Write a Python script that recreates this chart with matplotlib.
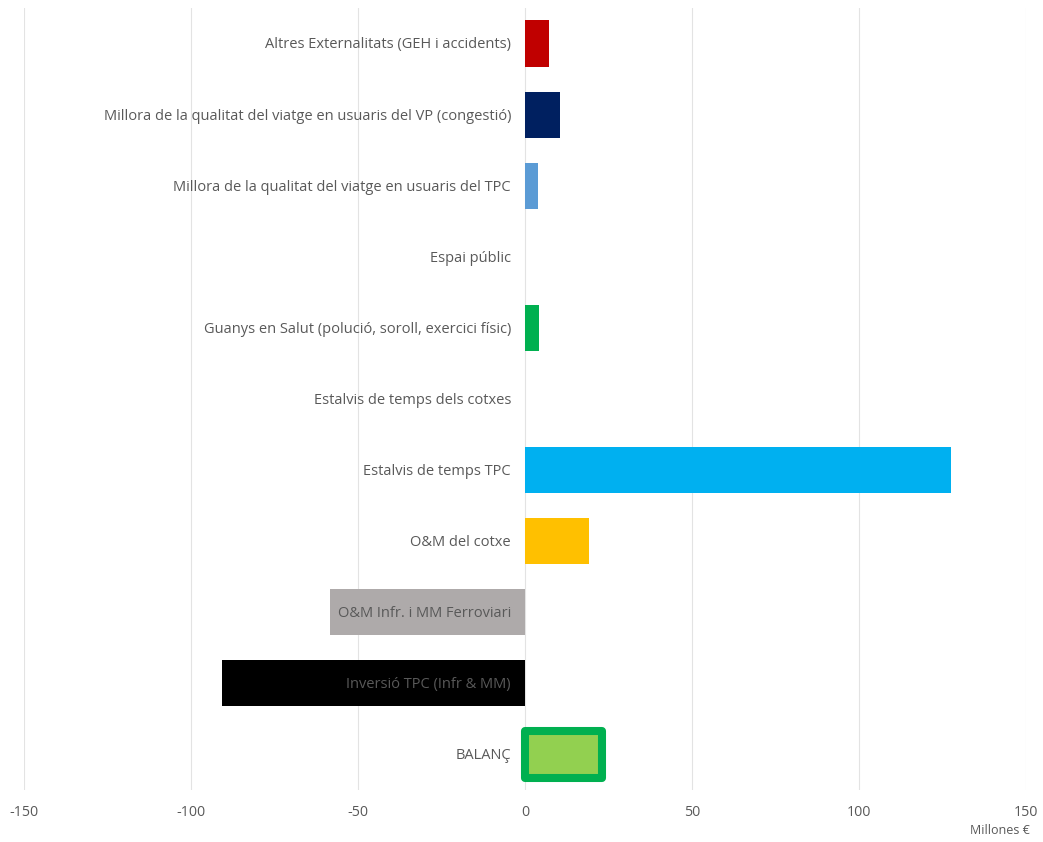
import matplotlib.pyplot as plt

# dades (milions d'euros)
categories = [
    "Altres Externalitats (GEH i accidents)",
    "Millora de la qualitat del viatge en usuaris del VP (congestió)",
    "Millora de la qualitat del viatge en usuaris del TPC",
    "Espai públic",
    "Guanys en Salut (polució, soroll, exercici físic)",
    "Estalvis de temps dels cotxes",
    "Estalvis de temps TPC",
    "O&M del cotxe",
    "O&M Infr. i MM Ferroviari",
    "Inversió TPC (Infr & MM)",
    "BALANÇ",
]
values = [7.2, 10.4, 3.9, 0, 4.1, 0, 127.6, 19.1, -58.3, -90.8, 23.2]
colors = ["#C00000", "#002060", "#5B9BD5", "#FFFFFF", "#00B050", "#FFFFFF",
          "#00B0F0", "#FFC000", "#AEAAAA", "#000000", "#92D050"]
xticks = [-150, -100, -50, 0, 50, 100, 150]

TXT = "#595959"
plt.rcParams["font.family"] = ["Open Sans", "DejaVu Sans"]
plt.rcParams["axes.unicode_minus"] = False

fig = plt.figure(figsize=(10.43, 8.42), dpi=100)
ax = fig.add_axes([24 / 1043, 1 - 790 / 842, 1002 / 1043, 782 / 842])

ypos = list(range(len(categories)))[::-1]
bars = ax.barh(ypos, values, height=0.65, color=colors, zorder=2)

# barra del balanç amb vora verda gruixuda
bars[-1].set_edgecolor("#00B050")
bars[-1].set_linewidth(5.8)
bars[-1].set_joinstyle("round")

for y, lab in zip(ypos, categories):
    ax.annotate(lab, xy=(0, y), xytext=(-10, -1), textcoords="offset points",
                ha="right", va="center", fontsize=10.55, color=TXT, zorder=3)

ax.set_xlim(-150, 150)
ax.set_ylim(-0.5, len(categories) - 0.5)
ax.set_xticks(xticks)
ax.set_yticks([])
ax.grid(axis="x", color="#E3E3E3", linewidth=0.8, zorder=0)
ax.tick_params(axis="x", length=0, pad=11, labelsize=10.3, labelcolor=TXT)
for s in ax.spines.values():
    s.set_visible(False)

fig.text(1030 / 1043, 1 - 831 / 842, "Millones €", ha="right", va="center",
         fontsize=9, color=TXT)

fig.savefig("out.png", dpi=100)
